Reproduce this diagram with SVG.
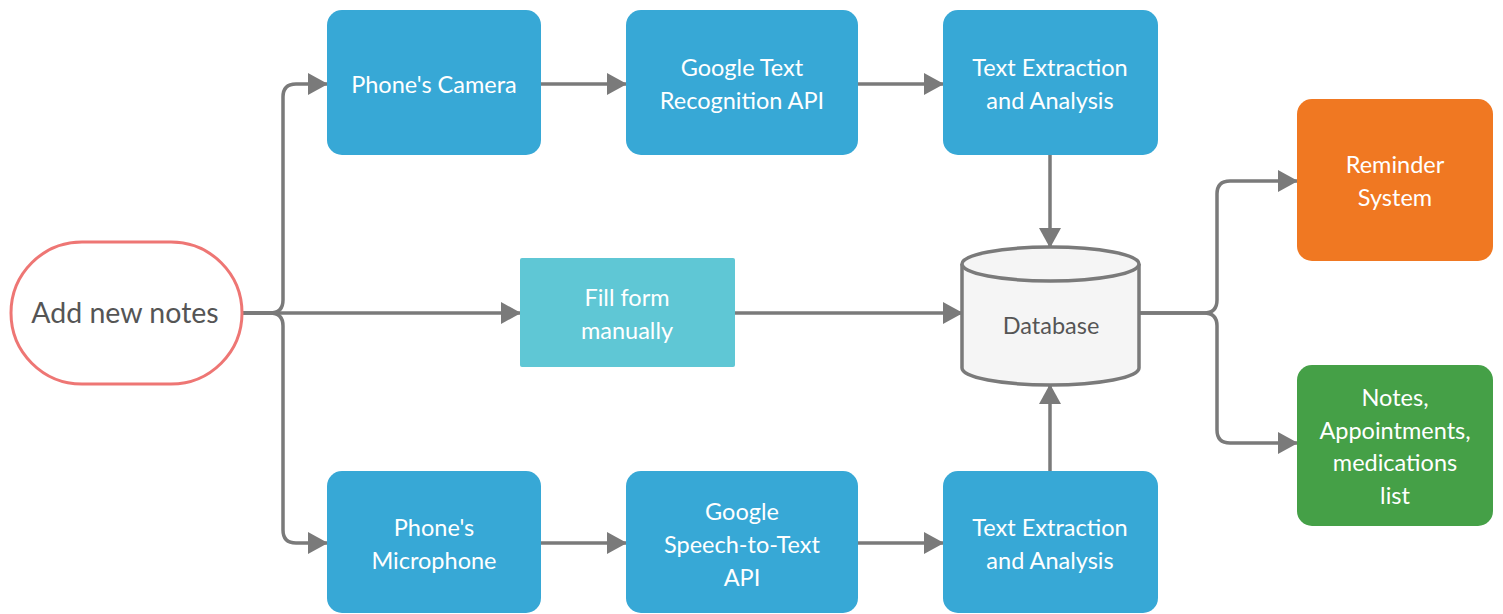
<svg xmlns="http://www.w3.org/2000/svg" width="1503" height="614" viewBox="0 0 1503 614">
<defs>
<marker id="arr" markerUnits="userSpaceOnUse" markerWidth="20" markerHeight="22" refX="19" refY="11" orient="auto">
<path d="M0,0 L20,11 L0,22 z" fill="#7a7a7a"/>
</marker>
<style>
.box{fill:#37a8d6}
.t{font-family:Lato,"Liberation Sans",sans-serif;font-size:23.5px;fill:#ffffff;text-anchor:middle}
.c{fill:none;stroke:#7a7a7a;stroke-width:3.5}
</style>
</defs>
<rect width="1503" height="614" fill="#ffffff"/>
<g id="connectors">
<path class="c" d="M242 313 H270 Q283 313 283 300 V97 Q283 84 296 84 H327" marker-end="url(#arr)"/>
<path class="c" d="M242 313 H270 Q283 313 283 326 V530 Q283 543 296 543 H327" marker-end="url(#arr)"/>
<path class="c" d="M242 313 H520" marker-end="url(#arr)"/>
<path class="c" d="M541 84 H626" marker-end="url(#arr)"/>
<path class="c" d="M858 84 H943" marker-end="url(#arr)"/>
<path class="c" d="M541 543 H626" marker-end="url(#arr)"/>
<path class="c" d="M858 543 H943" marker-end="url(#arr)"/>
<path class="c" d="M1050 155 V247" marker-end="url(#arr)"/>
<path class="c" d="M1050 471 V385" marker-end="url(#arr)"/>
<path class="c" d="M735 313 H962" marker-end="url(#arr)"/>
<path class="c" d="M1139 313 H1204 Q1217 313 1217 300 V194 Q1217 181 1230 181 H1297" marker-end="url(#arr)"/>
<path class="c" d="M1139 313 H1204 Q1217 313 1217 326 V430 Q1217 443 1230 443 H1297" marker-end="url(#arr)"/>
</g>
<g id="start">
<rect x="11" y="242" width="231" height="142" rx="71" fill="#ffffff" stroke="#ee7674" stroke-width="3"/>
<text x="125" y="323" font-family="Lato,'Liberation Sans',sans-serif" font-size="28.5" fill="#555555" text-anchor="middle">Add new notes</text>
</g>
<g id="camera">
<rect class="box" x="327" y="10" width="214" height="145" rx="15"/>
<text class="t" x="434" y="93">Phone's Camera</text>
</g>
<g id="google-text">
<rect class="box" x="626" y="10" width="232" height="145" rx="15"/>
<text class="t" x="742" y="76">Google Text</text>
<text class="t" x="742" y="109">Recognition API</text>
</g>
<g id="extract-top">
<rect class="box" x="943" y="10" width="215" height="145" rx="15"/>
<text class="t" x="1050" y="76">Text Extraction</text>
<text class="t" x="1050" y="109">and Analysis</text>
</g>
<g id="fill-form">
<rect x="520" y="258" width="215" height="109" rx="2" fill="#5fc7d5"/>
<text class="t" x="627" y="306">Fill form</text>
<text class="t" x="627" y="339">manually</text>
</g>
<g id="database">
<path d="M962 264 V368 A88.5 17 0 0 0 1139 368 V264" fill="#f5f5f5" stroke="#7a7a7a" stroke-width="3.5"/>
<ellipse cx="1050.5" cy="264" rx="88.5" ry="17" fill="#f5f5f5" stroke="#7a7a7a" stroke-width="3.5"/>
<text x="1051" y="334" font-family="Lato,'Liberation Sans',sans-serif" font-size="23.5" fill="#555555" text-anchor="middle">Database</text>
</g>
<g id="microphone">
<rect class="box" x="327" y="471" width="214" height="142" rx="15"/>
<text class="t" x="434" y="536">Phone's</text>
<text class="t" x="434" y="569">Microphone</text>
</g>
<g id="google-speech">
<rect class="box" x="626" y="471" width="232" height="142" rx="15"/>
<text class="t" x="742" y="520">Google</text>
<text class="t" x="742" y="553">Speech-to-Text</text>
<text class="t" x="742" y="586">API</text>
</g>
<g id="extract-bottom">
<rect class="box" x="943" y="471" width="215" height="142" rx="15"/>
<text class="t" x="1050" y="536">Text Extraction</text>
<text class="t" x="1050" y="569">and Analysis</text>
</g>
<g id="reminder">
<rect x="1297" y="99" width="196" height="162" rx="15" fill="#f07822"/>
<text class="t" x="1395" y="173">Reminder</text>
<text class="t" x="1395" y="206">System</text>
</g>
<g id="notes">
<rect x="1297" y="365" width="196" height="161" rx="15" fill="#45a047"/>
<text class="t" x="1395" y="406">Notes,</text>
<text class="t" x="1395" y="439">Appointments,</text>
<text class="t" x="1395" y="471">medications</text>
<text class="t" x="1395" y="504">list</text>
</g>
</svg>
